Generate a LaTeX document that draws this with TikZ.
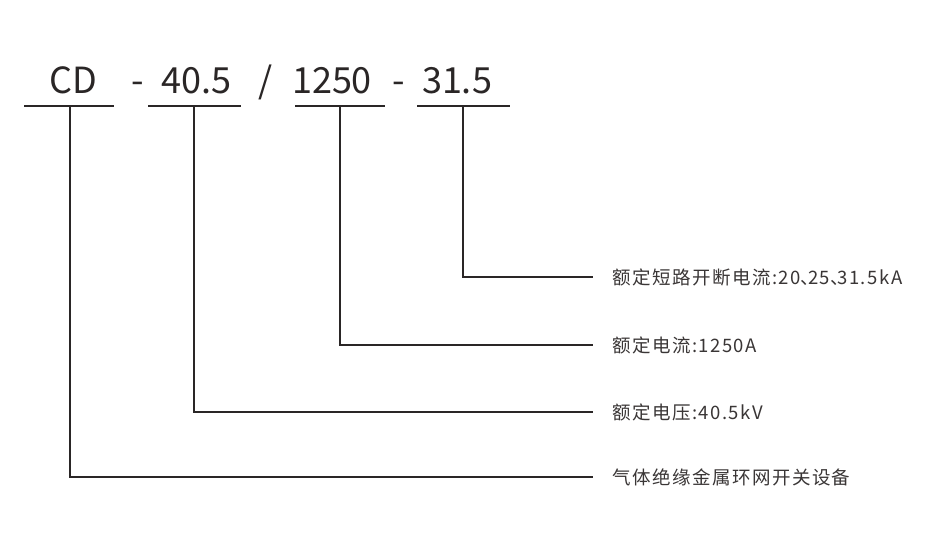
\documentclass[tikz,border=0pt]{standalone}
\usepackage{fontspec}
\newfontfamily\cjk{Noto Sans CJK SC}
\newfontfamily\cjklab[LetterSpace=8]{Noto Sans CJK SC}
\definecolor{ink}{HTML}{2A2626}
\definecolor{txt}{HTML}{3A3636}
\newcommand\halfdun{\makebox[0.4em][l]{、}}
\begin{document}
\begin{tikzpicture}[x=1pt,y=-1pt,
  codetxt/.style={inner sep=0pt,anchor=base,font=\cjk\fontsize{36}{40}\selectfont,text=ink},
  labtxt/.style={inner sep=0pt,anchor=west,font=\cjklab\fontsize{18.5}{22}\selectfont,text=txt},
  uline/.style={draw=ink,line width=1.8pt},
  conn/.style={draw=ink,line width=1.8pt,line cap=rect}]
\useasboundingbox[fill=white] (0,0) rectangle (931,551);
% code text
\node[codetxt] (cd) at (73.5,93) {CD};
\node[codetxt] (d1) at (137.5,93) {-};
\node[codetxt] (v) at (196.5,93) {40.5};
\node[codetxt] (sl) at (266,93) {/};
\node[codetxt] (i) at (332,93) {1250};
\node[codetxt] (d2) at (398.5,93) {-};
\node[codetxt] (s) at (457,93) {31.5};
% underlines
\coordinate (u1a) at (24,106); \coordinate (u1b) at (114,106);
\coordinate (u2a) at (148,106); \coordinate (u2b) at (241,106);
\coordinate (u3a) at (295,106); \coordinate (u3b) at (385,106);
\coordinate (u4a) at (417,106); \coordinate (u4b) at (510,106);
\draw[uline] (u1a) -- (u1b);
\draw[uline] (u2a) -- (u2b);
\draw[uline] (u3a) -- (u3b);
\draw[uline] (u4a) -- (u4b);
\coordinate (t1) at (70,106);
\coordinate (t2) at (194,106);
\coordinate (t3) at (340,106);
\coordinate (t4) at (463,106);
% labels
\node[labtxt] (l4) at (612,277) {额定短路开断电流:20\halfdun 25\halfdun 31.5kA};
\node[labtxt] (l3) at (612,345) {额定电流:1250A};
\node[labtxt] (l2) at (612,412) {额定电压:40.5kV};
\node[labtxt] (l1) at (612,477) {气体绝缘金属环网开关设备};
% connectors
\draw[conn] (t4) |- ([xshift=-20pt]l4.west);
\draw[conn] (t3) |- ([xshift=-20pt]l3.west);
\draw[conn] (t2) |- ([xshift=-20pt]l2.west);
\draw[conn] (t1) |- ([xshift=-20pt]l1.west);
\end{tikzpicture}
\end{document}
